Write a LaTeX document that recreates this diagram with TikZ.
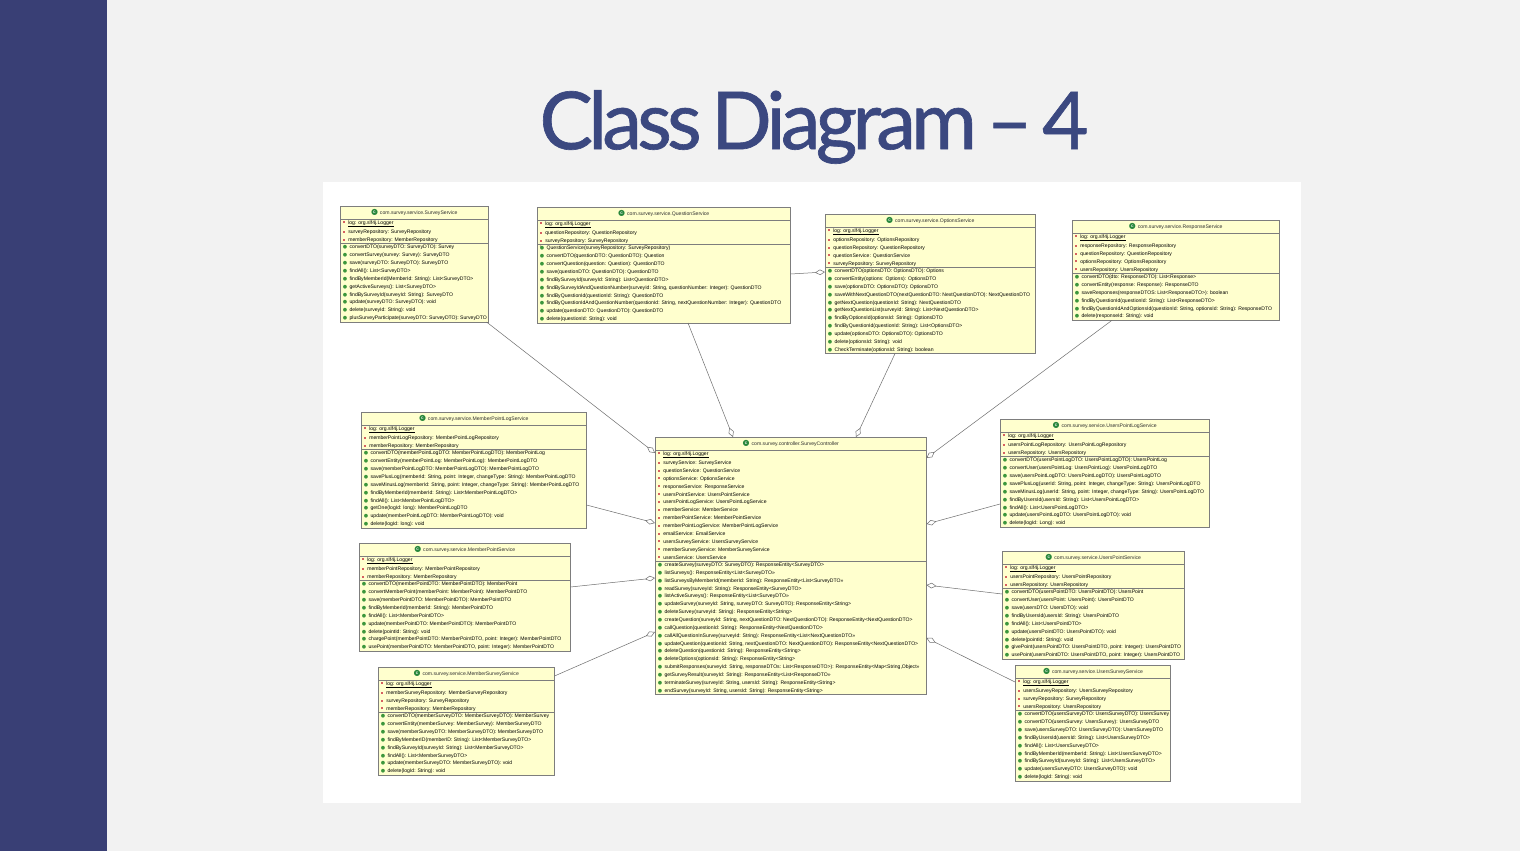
\documentclass[tikz,border=0pt]{standalone}
\usepackage{fontspec}
\setmainfont{Liberation Sans}
\newfontfamily\titlefont[LetterSpace=-6,WordSpace=0.6,FakeBold=0.8]{Lato}
\newfontfamily\symfont{DejaVu Sans}
\usetikzlibrary{shapes.multipart,arrows.meta}

\definecolor{sidebar}{RGB}{57,63,117}
\definecolor{pagebg}{RGB}{242,242,242}
\definecolor{titleblue}{RGB}{59,72,128}
\definecolor{boxfill}{RGB}{255,255,206}
\definecolor{boxline}{RGB}{125,125,125}
\definecolor{linkgray}{RGB}{110,110,110}
\definecolor{fieldred}{RGB}{214,96,96}
\definecolor{methgreen}{RGB}{60,150,60}
\definecolor{classgreen}{RGB}{40,135,60}
\definecolor{membertext}{RGB}{45,45,45}

% icons of the members
\newsavebox\classdot
\newcommand{\fieldicon}{\textcolor{fieldred}{\rule[0.9pt]{2pt}{2pt}}}
\newcommand{\methicon}{\textcolor{methgreen}{\symfont\fontsize{5}{5}\selectfont ●}}
\newcommand{\fld}[1]{\strut\hspace{1.5pt}\fieldicon\hspace{3pt}#1}
\newcommand{\sfld}[1]{\fld{\underline{#1}}}
\newcommand{\mth}[1]{\strut\hspace{1pt}\methicon\hspace{2.5pt}#1}
\newcommand{\ctor}[1]{\strut\hspace{1pt}\rlap{\raisebox{2.2pt}{\fontsize{3}{3}\selectfont c}}\methicon\hspace{2.5pt}#1}
\newcommand{\cls}[1]{\rule[-4.5pt]{0pt}{13pt}\rlap{\usebox\classdot}%
    \makebox[\wd\classdot][c]{\raisebox{1.5pt}{\textcolor{white}{\fontsize{3.5}{3.5}\selectfont\bfseries C}}}%
    \hspace{2pt}#1}

\begin{document}
\sbox\classdot{\textcolor{classgreen}{\symfont\fontsize{8}{8}\selectfont ●}}
\begin{tikzpicture}[
    x=1pt,
    y=-1pt,
    umlbox/.style={rectangle split, rectangle split parts=3,
        rectangle split part align={center,left,left},
        draw=boxline, fill=boxfill, line width=0.5pt,
        inner xsep=1.5pt, inner ysep=-0.5pt, align=left, text=membertext,
        font=\fontsize{5.1}{7.87}\selectfont, anchor=north west,
        minimum width=#1},
    assoc/.style={draw=linkgray, line width=0.5pt,
        -{Diamond[open,length=10pt,width=5.5pt]}}
]
    % slide
    \fill[pagebg] (0,0) rectangle (1520,851);
    \fill[sidebar] (0,0) rectangle (107,851);
    \node[font=\titlefont\fontsize{80}{80}\selectfont,text=titleblue]
        (title) at (814,127) {Class Diagram – 4};
    \fill[white] (323,182) rectangle (1301,803);

    % top row
    \node[umlbox=148pt] (surveysvc) at (340,206) {\cls{com.survey.service.SurveyService}
        \nodepart{two}\sfld{log: org.slf4j.Logger}\\
        \fld{surveyRepository: SurveyRepository}\\
        \fld{memberRepository: MemberRepository}
        \nodepart{three}\mth{convertDTO(surveyDTO: SurveyDTO): Survey}\\
        \mth{convertSurvey(survey: Survey): SurveyDTO}\\
        \mth{save(surveyDTO: SurveyDTO): SurveyDTO}\\
        \mth{findAll(): List<SurveyDTO>}\\
        \mth{findByMemberId(MemberId: String): List<SurveyDTO>}\\
        \mth{getActiveSurveys(): List<SurveyDTO>}\\
        \mth{findBySurveyId(surveyId: String): SurveyDTO}\\
        \mth{update(surveyDTO: SurveyDTO): void}\\
        \mth{delete(surveyId: String): void}\\
        \mth{plusSurveyParticipate(surveyDTO: SurveyDTO): SurveyDTO}};

    \node[umlbox=253pt] (questionsvc) at (537,207) {\cls{com.survey.service.QuestionService}
        \nodepart{two}\sfld{log: org.slf4j.Logger}\\
        \fld{questionRepository: QuestionRepository}\\
        \fld{surveyRepository: SurveyRepository}
        \nodepart{three}\ctor{QuestionService(surveyRepository: SurveyRepository)}\\
        \mth{convertDTO(questionDTO: QuestionDTO): Question}\\
        \mth{convertQuestion(question: Question): QuestionDTO}\\
        \mth{save(questionDTO: QuestionDTO): QuestionDTO}\\
        \mth{findBySurveyId(surveyId: String): List<QuestionDTO>}\\
        \mth{findBySurveyIdAndQuestionNumber(surveyId: String, questionNumber: Integer): QuestionDTO}\\
        \mth{findByQuestionId(questionId: String): QuestionDTO}\\
        \mth{findByQuestionIdAndQuestionNumber(questionId: String, nextQuestionNumber: Integer): QuestionDTO}\\
        \mth{update(questionDTO: QuestionDTO): QuestionDTO}\\
        \mth{delete(questionId: String): void}};

    \node[umlbox=210pt] (optionssvc) at (825,214) {\cls{com.survey.service.OptionsService}
        \nodepart{two}\sfld{log: org.slf4j.Logger}\\
        \fld{optionsRepository: OptionsRepository}\\
        \fld{questionRepository: QuestionRepository}\\
        \fld{questionService: QuestionService}\\
        \fld{surveyRepository: SurveyRepository}
        \nodepart{three}\mth{convertDTO(optionsDTO: OptionsDTO): Options}\\
        \mth{convertEntity(options: Options): OptionsDTO}\\
        \mth{save(optionsDTO: OptionsDTO): OptionsDTO}\\
        \mth{saveWithNextQuestionDTO(nextQuestionDTO: NextQuestionDTO): NextQuestionDTO}\\
        \mth{getNextQuestion(questionId: String): NextQuestionDTO}\\
        \mth{getNextQuestionList(surveyId: String): List<NextQuestionDTO>}\\
        \mth{findByOptionsId(optionsId: String): OptionsDTO}\\
        \mth{findByQuestionId(questionId: String): List<OptionsDTO>}\\
        \mth{update(optionsDTO: OptionsDTO): OptionsDTO}\\
        \mth{delete(optionsId: String): void}\\
        \mth{CheckTerminate(optionsId: String): boolean}};

    \node[umlbox=207pt] (responsesvc) at (1072,220) {\cls{com.survey.service.ResponseService}
        \nodepart{two}\sfld{log: org.slf4j.Logger}\\
        \fld{responseRepository: ResponseRepository}\\
        \fld{questionRepository: QuestionRepository}\\
        \fld{optionsRepository: OptionsRepository}\\
        \fld{usersRepository: UsersRepository}
        \nodepart{three}\mth{convertDTO(dto: ResponseDTO): List<Response>}\\
        \mth{convertEntity(response: Response): ResponseDTO}\\
        \mth{saveResponses(responseDTOS: List<ResponseDTO>): boolean}\\
        \mth{findByQuestionId(questionId: String): List<ResponseDTO>}\\
        \mth{findByQuestionIdAndOptionsId(questionId: String, optionsId: String): ResponseDTO}\\
        \mth{delete(responseId: String): void}};

    % controller
    \node[umlbox=271pt] (ctrl) at (655,437) {\cls{com.survey.controller.SurveyController}
        \nodepart{two}\sfld{log: org.slf4j.Logger}\\
        \fld{surveyService: SurveyService}\\
        \fld{questionService: QuestionService}\\
        \fld{optionsService: OptionsService}\\
        \fld{responseService: ResponseService}\\
        \fld{usersPointService: UsersPointService}\\
        \fld{usersPointLogService: UsersPointLogService}\\
        \fld{memberService: MemberService}\\
        \fld{memberPointService: MemberPointService}\\
        \fld{memberPointLogService: MemberPointLogService}\\
        \fld{emailService: EmailService}\\
        \fld{usersSurveyService: UsersSurveyService}\\
        \fld{memberSurveyService: MemberSurveyService}\\
        \fld{usersService: UsersService}
        \nodepart{three}\mth{createSurvey(surveyDTO: SurveyDTO): ResponseEntity<SurveyDTO>}\\
        \mth{listSurveys(): ResponseEntity<List<SurveyDTO>>}\\
        \mth{listSurveysByMemberId(memberId: String): ResponseEntity<List<SurveyDTO>>}\\
        \mth{readSurvey(surveyId: String): ResponseEntity<SurveyDTO>}\\
        \mth{listActiveSurveys(): ResponseEntity<List<SurveyDTO>>}\\
        \mth{updateSurvey(surveyId: String, surveyDTO: SurveyDTO): ResponseEntity<String>}\\
        \mth{deleteSurvey(surveyId: String): ResponseEntity<String>}\\
        \mth{createQuestion(surveyId: String, nextQuestionDTO: NextQuestionDTO): ResponseEntity<NextQuestionDTO>}\\
        \mth{callQuestion(questionId: String): ResponseEntity<NextQuestionDTO>}\\
        \mth{callAllQuestionInSurvey(surveyId: String): ResponseEntity<List<NextQuestionDTO>>}\\
        \mth{updateQuestion(questionId: String, nextQuestionDTO: NextQuestionDTO): ResponseEntity<NextQuestionDTO>}\\
        \mth{deleteQuestion(questionId: String): ResponseEntity<String>}\\
        \mth{deleteOptions(optionsId: String): ResponseEntity<String>}\\
        \mth{submitResponses(surveyId: String, responseDTOs: List<ResponseDTO>): ResponseEntity<Map<String,Object>>}\\
        \mth{getSurveyResult(surveyId: String): ResponseEntity<List<ResponseDTO>>}\\
        \mth{terminateSurvey(surveyId: String, usersId: String): ResponseEntity<String>}\\
        \mth{endSurvey(surveyId: String, usersId: String): ResponseEntity<String>}};

    % left column
    \node[umlbox=225pt] (mplogsvc) at (361,412) {\cls{com.survey.service.MemberPointLogService}
        \nodepart{two}\sfld{log: org.slf4j.Logger}\\
        \fld{memberPointLogRepository: MemberPointLogRepository}\\
        \fld{memberRepository: MemberRepository}
        \nodepart{three}\mth{convertDTO(memberPointLogDTO: MemberPointLogDTO): MemberPointLog}\\
        \mth{convertEntity(memberPointLog: MemberPointLog): MemberPointLogDTO}\\
        \mth{save(memberPointLogDTO: MemberPointLogDTO): MemberPointLogDTO}\\
        \mth{savePlusLog(memberId: String, point: Integer, changeType: String): MemberPointLogDTO}\\
        \mth{saveMinusLog(memberId: String, point: Integer, changeType: String): MemberPointLogDTO}\\
        \mth{findByMemberId(memberId: String): List<MemberPointLogDTO>}\\
        \mth{findAll(): List<MemberPointLogDTO>}\\
        \mth{getOne(logId: long): MemberPointLogDTO}\\
        \mth{update(memberPointLogDTO: MemberPointLogDTO): void}\\
        \mth{delete(logId: long): void}};

    \node[umlbox=211pt] (mpointsvc) at (359,543) {\cls{com.survey.service.MemberPointService}
        \nodepart{two}\sfld{log: org.slf4j.Logger}\\
        \fld{memberPointRepository: MemberPointRepository}\\
        \fld{memberRepository: MemberRepository}
        \nodepart{three}\mth{convertDTO(memberPointDTO: MemberPointDTO): MemberPoint}\\
        \mth{convertMemberPoint(memberPoint: MemberPoint): MemberPointDTO}\\
        \mth{save(memberPointDTO: MemberPointDTO): MemberPointDTO}\\
        \mth{findByMemberId(memberId: String): MemberPointDTO}\\
        \mth{findAll(): List<MemberPointDTO>}\\
        \mth{update(memberPointDTO: MemberPointDTO): MemberPointDTO}\\
        \mth{delete(pointId: String): void}\\
        \mth{chargePoint(memberPointDTO: MemberPointDTO, point: Integer): MemberPointDTO}\\
        \mth{usePoint(memberPointDTO: MemberPointDTO, point: Integer): MemberPointDTO}};

    \node[umlbox=176pt] (msurveysvc) at (378,667) {\cls{com.survey.service.MemberSurveyService}
        \nodepart{two}\sfld{log: org.slf4j.Logger}\\
        \fld{memberSurveyRepository: MemberSurveyRepository}\\
        \fld{surveyRepository: SurveyRepository}\\
        \fld{memberRepository: MemberRepository}
        \nodepart{three}\mth{convertDTO(memberSurveyDTO: MemberSurveyDTO): MemberSurvey}\\
        \mth{convertEntity(memberSurvey: MemberSurvey): MemberSurveyDTO}\\
        \mth{save(memberSurveyDTO: MemberSurveyDTO): MemberSurveyDTO}\\
        \mth{findByMemberID(memberID: String): List<MemberSurveyDTO>}\\
        \mth{findBySurveyId(surveyId: String): List<MemberSurveyDTO>}\\
        \mth{findAll(): List<MemberSurveyDTO>}\\
        \mth{update(memberSurveyDTO: MemberSurveyDTO): void}\\
        \mth{delete(logId: String): void}};

    % right column
    \node[umlbox=209pt] (uplogsvc) at (1000,419) {\cls{com.survey.service.UsersPointLogService}
        \nodepart{two}\sfld{log: org.slf4j.Logger}\\
        \fld{usersPointLogRepository: UsersPointLogRepository}\\
        \fld{usersRepository: UsersRepository}
        \nodepart{three}\mth{convertDTO(usersPointLogDTO: UsersPointLogDTO): UsersPointLog}\\
        \mth{convertUser(usersPointLog: UsersPointLog): UsersPointLogDTO}\\
        \mth{save(usersPointLogDTO: UsersPointLogDTO): UsersPointLogDTO}\\
        \mth{savePlusLog(userId: String, point: Integer, changeType: String): UsersPointLogDTO}\\
        \mth{saveMinusLog(userId: String, point: Integer, changeType: String): UsersPointLogDTO}\\
        \mth{findByUsersId(usersId: String): List<UsersPointLogDTO>}\\
        \mth{findAll(): List<UsersPointLogDTO>}\\
        \mth{update(usersPointLogDTO: UsersPointLogDTO): void}\\
        \mth{delete(logId: Long): void}};

    \node[umlbox=182pt] (upointsvc) at (1002,551) {\cls{com.survey.service.UsersPointService}
        \nodepart{two}\sfld{log: org.slf4j.Logger}\\
        \fld{usersPointRepository: UsersPointRepository}\\
        \fld{usersRepository: UsersRepository}
        \nodepart{three}\mth{convertDTO(usersPointDTO: UsersPointDTO): UsersPoint}\\
        \mth{convertUser(usersPoint: UsersPoint): UsersPointDTO}\\
        \mth{save(usersDTO: UsersDTO): void}\\
        \mth{findByUsersId(usersId: String): UsersPointDTO}\\
        \mth{findAll(): List<UsersPointDTO>}\\
        \mth{update(usersPointDTO: UsersPointDTO): void}\\
        \mth{delete(pointId: String): void}\\
        \mth{givePoint(usersPointDTO: UsersPointDTO, point: Integer): UsersPointDTO}\\
        \mth{usePoint(usersPointDTO: UsersPointDTO, point: Integer): UsersPointDTO}};

    \node[umlbox=154pt] (usurveysvc) at (1015,665) {\cls{com.survey.service.UsersSurveyService}
        \nodepart{two}\sfld{log: org.slf4j.Logger}\\
        \fld{usersSurveyRepository: UsersSurveyRepository}\\
        \fld{surveyRepository: SurveyRepository}\\
        \fld{usersRepository: UsersRepository}
        \nodepart{three}\mth{convertDTO(usersSurveyDTO: UsersSurveyDTO): UsersSurvey}\\
        \mth{convertDTO(usersSurvey: UsersSurvey): UsersSurveyDTO}\\
        \mth{save(usersSurveyDTO: UsersSurveyDTO): UsersSurveyDTO}\\
        \mth{findByUsersId(usersId: String): List<UsersSurveyDTO>}\\
        \mth{findAll(): List<UsersSurveyDTO>}\\
        \mth{findByMemberId(memberId: String): List<UsersSurveyDTO>}\\
        \mth{findBySurveyId(surveyId: String): List<UsersSurveyDTO>}\\
        \mth{update(usersSurveyDTO: UsersSurveyDTO): void}\\
        \mth{delete(logId: String): void}};

    % associations
    \draw[assoc] ([xshift=-2pt]surveysvc.south east) -- ([yshift=-16pt]ctrl.north west);
    \draw[assoc] ([xshift=151pt]questionsvc.south west) -- ([xshift=78pt]ctrl.north west);
    \draw[assoc] ([yshift=-67pt]questionsvc.north east) -- ([yshift=-58pt]optionssvc.north west);
    \draw[assoc] ([xshift=70pt]optionssvc.south west) -- ([xshift=201pt]ctrl.north west);
    \draw[assoc] ([xshift=40pt]responsesvc.south west) -- ([yshift=-21pt]ctrl.north east);
    \draw[assoc] ([yshift=-93pt]mplogsvc.north east) -- ([yshift=-86pt]ctrl.north west);
    \draw[assoc] ([yshift=-85pt]uplogsvc.north west) -- ([yshift=-87pt]ctrl.north east);
    \draw[assoc] ([yshift=-44pt]mpointsvc.north east) -- ([yshift=-141pt]ctrl.north west);
    \draw[assoc] ([yshift=-43pt]upointsvc.north west) -- ([yshift=-148pt]ctrl.north east);
    \draw[assoc] ([yshift=-9pt]msurveysvc.north east) -- ([yshift=-195pt]ctrl.north west);
    \draw[assoc] ([yshift=-17pt]usurveysvc.north west) -- ([yshift=-201pt]ctrl.north east);
\end{tikzpicture}
\end{document}
